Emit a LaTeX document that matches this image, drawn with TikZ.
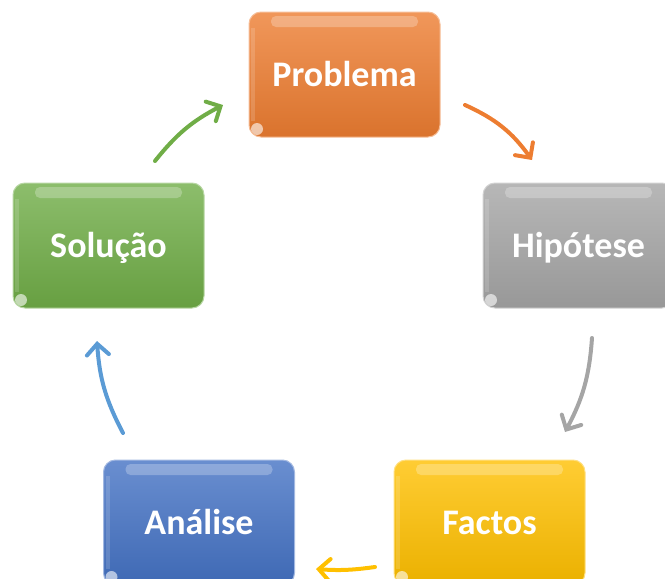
\documentclass[tikz,border=0pt]{standalone}
\usepackage{fontspec}
\setmainfont{Carlito}
\usetikzlibrary{arrows.meta}
\definecolor{laranja}{HTML}{ED7D31}
\definecolor{cinza}{HTML}{A5A5A5}
\definecolor{verde}{HTML}{70AD47}
\definecolor{azul}{HTML}{4472C4}
\definecolor{celeste}{HTML}{5B9BD5}
\definecolor{ouro}{HTML}{FFC000}

\begin{document}
\begin{tikzpicture}[x=1pt,y=1pt,
  caixa/.style={rounded corners=12pt, minimum width=191pt, minimum height=125pt,
    inner sep=0pt, text height=23pt, text depth=0pt,
    top color=#1!80!white, bottom color=#1!92!black, draw=#1!50!white, line width=1pt,
    text=white, font=\bfseries\fontsize{36}{40}\selectfont,
    path picture={
      \fill[white,opacity=.25,rounded corners=5pt]
        ([xshift=22pt,yshift=-4pt]path picture bounding box.north west) rectangle
        ([xshift=-22pt,yshift=-15pt]path picture bounding box.north east);
      \fill[white,opacity=.15,sharp corners]
        ([xshift=2pt,yshift=-16pt]path picture bounding box.north west) rectangle
        ([xshift=6pt,yshift=16pt]path picture bounding box.south west);
      \fill[white,opacity=.6]
        ([xshift=8pt,yshift=8pt]path picture bounding box.south west) circle (6pt);
    }},
  seta/.style={#1, line width=4pt, line cap=round,
    -{Straight Barb[length=11pt,width=22pt,line cap=round]}}]
\useasboundingbox (0,0) rectangle (665,-579);
\clip (0,0) rectangle (665,-579);

\node[caixa=laranja] (prob) at (344.5,-74.5) {Problema};
\node[caixa=cinza] (hip) at (578.5,-245.5) {Hipótese};
\node[caixa=ouro] (fact) at (489.5,-522.5) {Factos};
\node[caixa=azul] (anal) at (199,-522.5) {Análise};
\node[caixa=verde] (sol) at (108.5,-245.5) {Solução};

\coordinate (prob-a) at (465,-105);
\coordinate (hip-b) at (532,-160);
\coordinate (hip-a) at (592,-338);
\coordinate (fact-b) at (565,-432);
\coordinate (fact-a) at (375,-567);
\coordinate (anal-b) at (316,-569);
\coordinate (anal-a) at (123,-433);
\coordinate (sol-b) at (97,-341);
\coordinate (sol-a) at (155,-161);
\coordinate (prob-b) at (223,-105);

\draw[seta=laranja] (prob-a) to[bend left=15] (hip-b);
\draw[seta=cinza] (hip-a) to[bend left=12] (fact-b);
\draw[seta=ouro] (fact-a) to[bend left=6] (anal-b);
\draw[seta=celeste] (anal-a) to[bend left=12] (sol-b);
\draw[seta=verde] (sol-a) to[bend left=12] (prob-b);
\end{tikzpicture}
\end{document}
